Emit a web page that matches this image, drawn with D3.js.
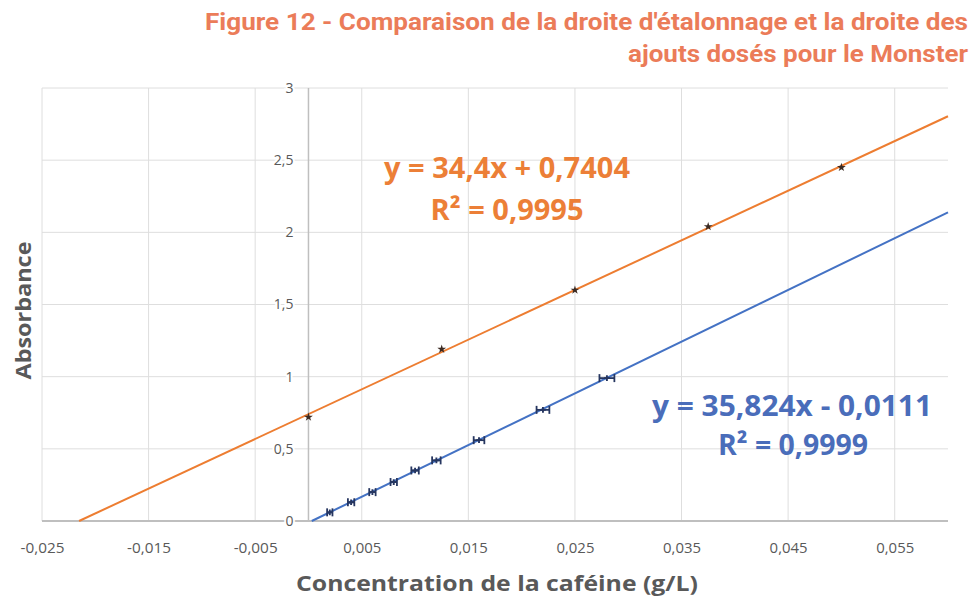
<!DOCTYPE html>
<html>
<head>
<meta charset="utf-8">
<script src="https://cdn.jsdelivr.net/npm/d3@7"></script>
<style>
  body { margin: 0; background: #fff; }
  svg { display: block; }
</style>
</head>
<body>
<svg id="chart" width="973" height="599"></svg>
<script>
// droite d'étalonnage (bleu) : concentration en g/L, absorbance, incertitude horizontale
const etalonX = [0.002, 0.004, 0.006, 0.008, 0.010, 0.012, 0.016, 0.022, 0.028];
const etalonY = [0.06, 0.13, 0.20, 0.27, 0.35, 0.42, 0.56, 0.77, 0.99];
const etalonErr = [0.00025, 0.0003, 0.0003, 0.0003, 0.00035, 0.0004, 0.0005, 0.0006, 0.0007];

// ajouts dosés (orange)
const ajoutsX = [0, 0.0125, 0.025, 0.0375, 0.05];
const ajoutsY = [0.72, 1.19, 1.60, 2.04, 2.45];

// courbes de tendance
const etalonFit = { slope: 35.824, intercept: -0.0111, eq: 'y = 35,824x - 0,0111', r2: 'R² = 0,9999' };
const ajoutsFit = { slope: 34.4, intercept: 0.7404, eq: 'y = 34,4x + 0,7404', r2: 'R² = 0,9995' };

const xTicks = [-0.025, -0.015, -0.005, 0.005, 0.015, 0.025, 0.035, 0.045, 0.055];
const yTicks = [0, 0.5, 1, 1.5, 2, 2.5, 3];

const titleLines = [
  "Figure 12 - Comparaison de la droite d'étalonnage et la droite des",
  "ajouts dosés pour le Monster"
];

const orange = '#ED7D31';
const blue = '#4472C4';
const frFmt = v => String(v).replace('.', ',');

const svg = d3.select('#chart');

const x = d3.scaleLinear().domain([-0.025, 0.06]).range([42, 948]);
const y = d3.scaleLinear().domain([0, 3]).range([521, 88]);

// quadrillage
svg.append('g').selectAll('line').data(yTicks.slice(1)).join('line')
  .attr('x1', x(-0.025)).attr('x2', x(0.06))
  .attr('y1', d => y(d)).attr('y2', d => y(d))
  .attr('stroke', '#DEDEDE').attr('stroke-width', 1);
svg.append('g').selectAll('line').data(xTicks).join('line')
  .attr('x1', d => x(d)).attr('x2', d => x(d))
  .attr('y1', y(0)).attr('y2', y(3))
  .attr('stroke', '#DEDEDE').attr('stroke-width', 1);

// axes
svg.append('line')
  .attr('x1', x(0)).attr('x2', x(0)).attr('y1', y(0)).attr('y2', y(3))
  .attr('stroke', '#BFBFBF').attr('stroke-width', 1.5);
svg.append('line')
  .attr('x1', x(-0.025)).attr('x2', x(0.06)).attr('y1', y(0)).attr('y2', y(0))
  .attr('stroke', '#BFBFBF').attr('stroke-width', 2);

const xAxis = svg.append('g')
  .attr('transform', `translate(0,${y(0)})`)
  .call(d3.axisBottom(x).tickValues(xTicks).tickFormat(frFmt).tickSize(0).tickPadding(22));
xAxis.select('.domain').remove();
xAxis.selectAll('text')
  .attr('font-family', 'Open Sans').attr('font-size', 14).attr('fill', '#595959')
  .attr('textLength', d => d < 0 ? 44 : 38).attr('lengthAdjust', 'spacingAndGlyphs');

const yAxis = svg.append('g')
  .attr('transform', `translate(${x(0) - 15},0)`)
  .call(d3.axisLeft(y).tickValues(yTicks).tickFormat(frFmt).tickSize(0).tickPadding(0));
yAxis.select('.domain').remove();
yAxis.selectAll('text')
  .attr('font-family', 'Open Sans').attr('font-size', 14).attr('fill', '#595959')
  .attr('stroke', '#fff').attr('stroke-width', 4).attr('paint-order', 'stroke');

// droites de tendance, tracées de y = 0 jusqu'au bord droit
function trend(fit, color) {
  const x0 = -fit.intercept / fit.slope;
  const x1 = 0.06;
  svg.append('line')
    .attr('x1', x(x0)).attr('y1', y(0))
    .attr('x2', x(x1)).attr('y2', y(fit.slope * x1 + fit.intercept))
    .attr('stroke', color).attr('stroke-width', 2);
}
trend(ajoutsFit, orange);
trend(etalonFit, blue);

// points ajouts dosés
svg.append('g').selectAll('path').data(ajoutsX).join('path')
  .attr('transform', (d, i) => `translate(${x(d)},${y(ajoutsY[i])})`)
  .attr('d', d3.symbol().type(d3.symbolStar).size(24))
  .attr('fill', '#3b2a22');

// points étalonnage avec barres d'erreur horizontales
const eb = svg.append('g').attr('stroke', '#263660').attr('stroke-width', 1.8).attr('fill', 'none');
etalonX.forEach((cx, i) => {
  const cy = y(etalonY[i]);
  const xl = x(cx - etalonErr[i]), xr = x(cx + etalonErr[i]);
  eb.append('line').attr('x1', xl).attr('x2', xr).attr('y1', cy).attr('y2', cy);
  eb.append('line').attr('x1', xl).attr('x2', xl).attr('y1', cy - 4).attr('y2', cy + 4);
  eb.append('line').attr('x1', xr).attr('x2', xr).attr('y1', cy - 4).attr('y2', cy + 4);
});
svg.append('g').selectAll('path').data(etalonX).join('path')
  .attr('transform', (d, i) => `translate(${x(d)},${y(etalonY[i])})`)
  .attr('d', d3.symbol().type(d3.symbolCross).size(18))
  .attr('fill', '#263660');

// étiquettes des équations
function label(txt, cx, cy, w, color) {
  svg.append('text')
    .attr('x', cx).attr('y', cy)
    .attr('text-anchor', 'middle')
    .attr('font-family', 'Open Sans').attr('font-weight', 700).attr('font-size', 29)
    .attr('fill', color)
    .attr('textLength', w).attr('lengthAdjust', 'spacingAndGlyphs')
    .text(txt);
}
label(ajoutsFit.eq, 507, 178, 246, '#EC7F37');
label(ajoutsFit.r2, 507, 220, 153, '#EC7F37');
label(etalonFit.eq, 792, 416, 280, '#4A6DBA');
label(etalonFit.r2, 793, 455, 150, '#4A6DBA');

// titres d'axes
svg.append('text')
  .attr('transform', `translate(31,${(y(0) + y(3)) / 2 + 6}) rotate(-90)`)
  .attr('text-anchor', 'middle')
  .attr('font-family', 'Open Sans').attr('font-weight', 700).attr('font-size', 22)
  .attr('fill', '#595959')
  .attr('textLength', 138).attr('lengthAdjust', 'spacingAndGlyphs')
  .text('Absorbance');
svg.append('text')
  .attr('x', 497).attr('y', 591)
  .attr('text-anchor', 'middle')
  .attr('font-family', 'Open Sans').attr('font-weight', 700).attr('font-size', 22)
  .attr('fill', '#595959')
  .attr('textLength', 402).attr('lengthAdjust', 'spacingAndGlyphs')
  .text('Concentration de la caféine (g/L)');

// titre de la figure
const tWidths = [763, 340];
svg.append('g').selectAll('text').data(titleLines).join('text')
  .attr('x', 968).attr('y', (d, i) => 30 + i * 32)
  .attr('text-anchor', 'end')
  .attr('font-family', 'Roboto').attr('font-weight', 700).attr('font-size', 24)
  .attr('fill', '#EB7C59')
  .attr('textLength', (d, i) => tWidths[i]).attr('lengthAdjust', 'spacingAndGlyphs')
  .text(d => d);
</script>
</body>
</html>
